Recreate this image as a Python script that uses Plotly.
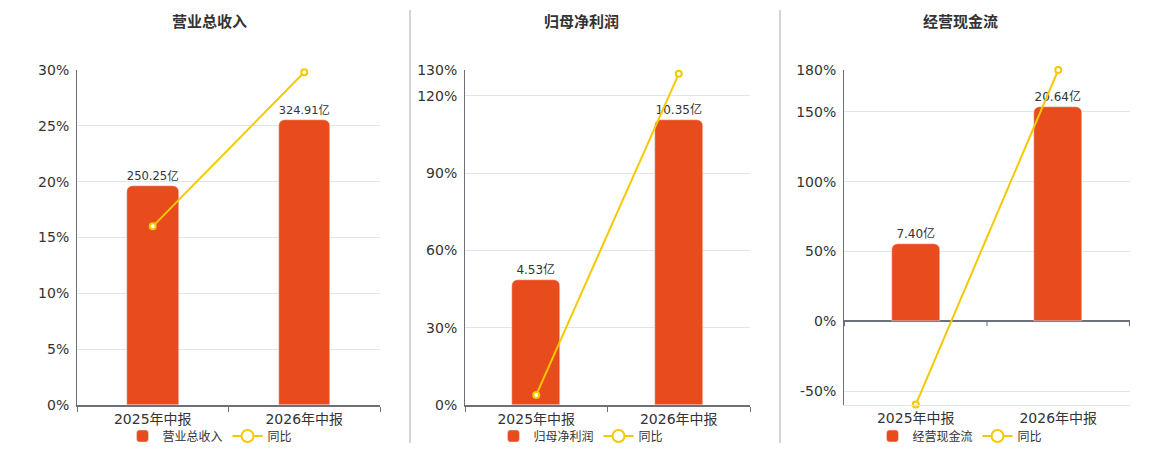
import plotly.graph_objects as go

categories = ["2025年中报", "2026年中报"]

titles = ["营业总收入", "归母净利润", "经营现金流"]
amounts_revenue = [250.25, 324.91]
amounts_profit = [4.53, 10.35]
amounts_cashflow = [7.40, 20.64]
yoy_revenue = [16.0, 29.8]
yoy_profit = [3.9, 128.5]
yoy_cashflow = [-59.7, 180.0]

pct_ticks = [
    [0, 5, 10, 15, 20, 25, 30],
    [0, 30, 60, 90, 120, 130],
    [-60, -50, 0, 50, 100, 150, 180],
]
pct_ranges = [[0, 30], [0, 130], [-60, 180]]
bar_ranges = [[0, 382.3], [0, 12.17], [-8.06, 24.17]]

BAR = "#E84C1D"
LINE = "#F5C800"
AXIS = "#6E7079"
GRID = "#E0E6F1"
TEXT = "#333333"
FONT = "DejaVu Sans, Noto Sans CJK SC, sans-serif"

W, H = 1160, 450
OFF = 8  # page body margin in the browser


def px_x(p):
    return (p - OFF) / W


def px_y(p):
    return 1 - (p - OFF) / H


x_edges = [[77, 380], [465, 750], [844, 1130]]
centers = [210, 581, 960]
plot_top, plot_bottom = 70, 405

amounts = [amounts_revenue, amounts_profit, amounts_cashflow]
yoys = [yoy_revenue, yoy_profit, yoy_cashflow]

fig = go.Figure()

for i in range(3):
    n = i + 1
    xa = "x" if n == 1 else "x%d" % n
    ya_bar = "y" if n == 1 else "y%d" % (2 * n - 1)
    ya_pct = "y%d" % (2 * n)
    leg = "legend" if n == 1 else "legend%d" % n

    fig.add_trace(go.Bar(
        x=categories, y=amounts[i], xaxis=xa, yaxis=ya_bar,
        name=titles[i], legend=leg, marker_color=BAR, width=0.34,
        text=["%.2f亿" % v for v in amounts[i]], textposition="outside",
        textfont=dict(size=12, color=TEXT, family=FONT), cliponaxis=False,
        hoverinfo="skip",
    ))
    fig.add_trace(go.Scatter(
        x=categories, y=yoys[i], xaxis=xa, yaxis=ya_pct,
        mode="lines+markers", showlegend=False, legend=leg,
        line=dict(color=LINE, width=2),
        marker=dict(size=6, color="white", line=dict(color=LINE, width=2)),
        cliponaxis=False, hoverinfo="skip",
    ))
    # legend entry with a bigger marker, like the original
    fig.add_trace(go.Scatter(
        x=[None], y=[None], xaxis=xa, yaxis=ya_pct,
        mode="lines+markers", name="同比", legend=leg,
        line=dict(color=LINE, width=2),
        marker=dict(size=12, color="white", line=dict(color=LINE, width=2)),
    ))

    xkey = "xaxis" if n == 1 else "xaxis%d" % n
    bkey = "yaxis" if n == 1 else "yaxis%d" % (2 * n - 1)
    pkey = "yaxis%d" % (2 * n)
    ybar_name = "y" if n == 1 else "y%d" % (2 * n - 1)

    fig.layout[xkey] = dict(
        domain=[px_x(x_edges[i][0]), px_x(x_edges[i][1])],
        anchor=ybar_name, type="category",
        showline=True, linecolor=AXIS if n != 3 else GRID,
        linewidth=1.5 if n != 3 else 1,
        ticks="outside" if n != 3 else "", tickson="boundaries", ticklen=5,
        tickcolor=AXIS, showgrid=False,
        tickfont=dict(size=14, color=TEXT, family=FONT),
    )
    fig.layout[bkey] = dict(
        domain=[px_y(plot_bottom), px_y(plot_top)], anchor=xa,
        range=bar_ranges[i], visible=False,
    )
    labels = ["%d%%" % v for v in pct_ticks[i]]
    if n == 3:
        labels[0] = ""
    fig.layout[pkey] = dict(
        overlaying=ybar_name, anchor=xa, side="left", range=pct_ranges[i],
        tickvals=pct_ticks[i], ticktext=labels, ticklabelstandoff=4,
        showgrid=True, gridcolor=GRID, gridwidth=1,
        showline=True, linecolor=AXIS, linewidth=1,
        zeroline=(n == 3), zerolinecolor=AXIS, zerolinewidth=2,
        tickfont=dict(size=14, color=TEXT, family=FONT),
    )

    fig.layout[leg] = dict(
        orientation="h", x=px_x(centers[i]), xanchor="center",
        y=px_y(436), yanchor="middle", yref="paper",
        font=dict(size=12, color=TEXT, family=FONT),
        bgcolor="rgba(0,0,0,0)", itemwidth=30, tracegroupgap=0,
    )
    fig.add_annotation(
        text="<b>%s</b>" % titles[i], xref="paper", yref="paper",
        x=px_x(centers[i]), y=px_y(22), showarrow=False,
        xanchor="center", yanchor="middle",
        font=dict(size=15, color=TEXT, family=FONT),
    )

# x-axis ticks on the zero line in the cash-flow panel
for b in [-0.5, 0.5, 1.5]:
    fig.add_shape(type="line", xref="x3", yref="y6", x0=b, x1=b,
                  ysizemode="pixel", yanchor=0, y0=0, y1=-5,
                  line=dict(color=AXIS, width=1))

# separators between panels
for sx in [410, 780]:
    fig.add_shape(type="line", xref="paper", yref="paper",
                  x0=px_x(sx), x1=px_x(sx), y0=px_y(443), y1=px_y(10),
                  line=dict(color="#AAAAAA", width=1))

fig.update_traces(marker_cornerradius=6, selector=dict(type="bar"))
fig.update_layout(
    width=W, height=H,
    margin=dict(l=0, r=0, t=0, b=0, autoexpand=False),
    plot_bgcolor="white", paper_bgcolor="white", bargap=0,
    font=dict(family=FONT, color=TEXT),
)

fig.write_html("out.html")
